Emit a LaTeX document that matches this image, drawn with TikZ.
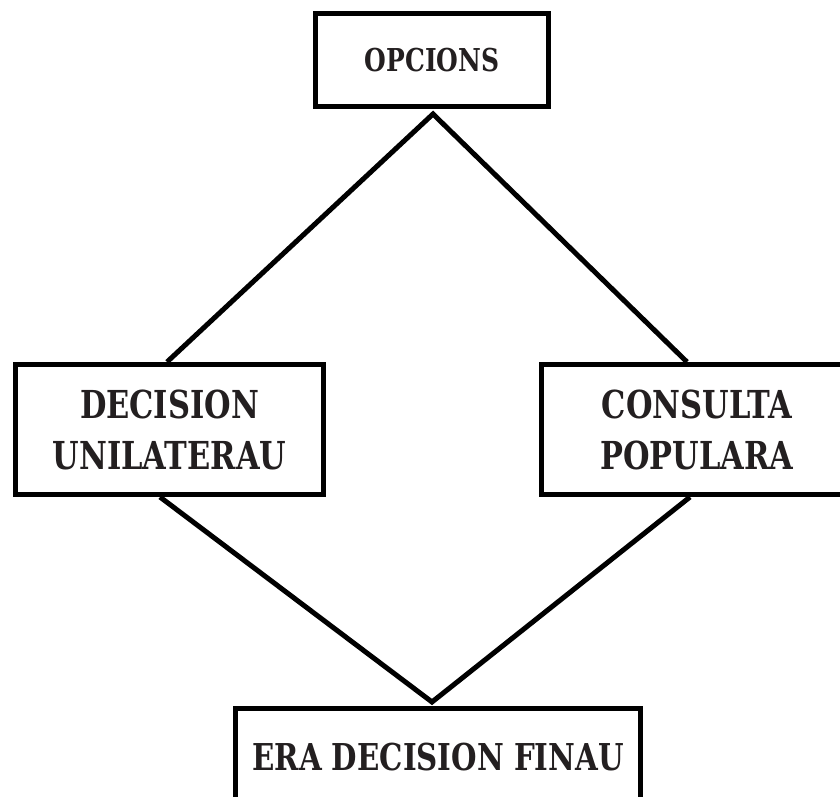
\documentclass[tikz,border=0pt]{standalone}
\usepackage{fontspec}
\newfontfamily\labfont[FakeStretch=0.88]{DejaVu Serif Condensed}
\definecolor{ink}{HTML}{231F20}
\begin{document}
\begin{tikzpicture}[x=1pt,y=-1pt,
  box/.style={draw=black,line width=5pt,rectangle,inner sep=0pt,align=center,
    text=ink,font=\labfont\bfseries},
  link/.style={draw=black,line width=5pt,line join=miter}]
\useasboundingbox (0,0) rectangle (840,797);
\clip (0,0) rectangle (840,797);
\node[box,minimum width=233pt,minimum height=93pt,font=\labfont\bfseries\fontsize{31.5}{38}\selectfont] (top) at (432,60) {OPCIONS};
\node[box,minimum width=308pt,minimum height=130pt,font=\labfont\bfseries\fontsize{38.5}{51}\selectfont] (left) at (169.5,429.5) {DECISION\\UNILATERAU};
\node[box,minimum width=311pt,minimum height=130pt,font=\labfont\bfseries\fontsize{38.5}{51}\selectfont] (right) at (697,429.5) {CONSULTA\\POPULARA};
\node[box,minimum width=405pt,minimum height=97pt,font=\labfont\bfseries\fontsize{37}{48}\selectfont] (final) at (438,757) {ERA DECISION FINAU};
\coordinate (apex) at (433,114);
\coordinate (base) at (432,702);
\draw[link] ([xshift=-2.5pt]left.north) -- (apex) -- ([xshift=-10pt]right.north);
\draw[link] ([xshift=-9.5pt]left.south) -- (base) -- ([xshift=-7pt]right.south);
\end{tikzpicture}
\end{document}
